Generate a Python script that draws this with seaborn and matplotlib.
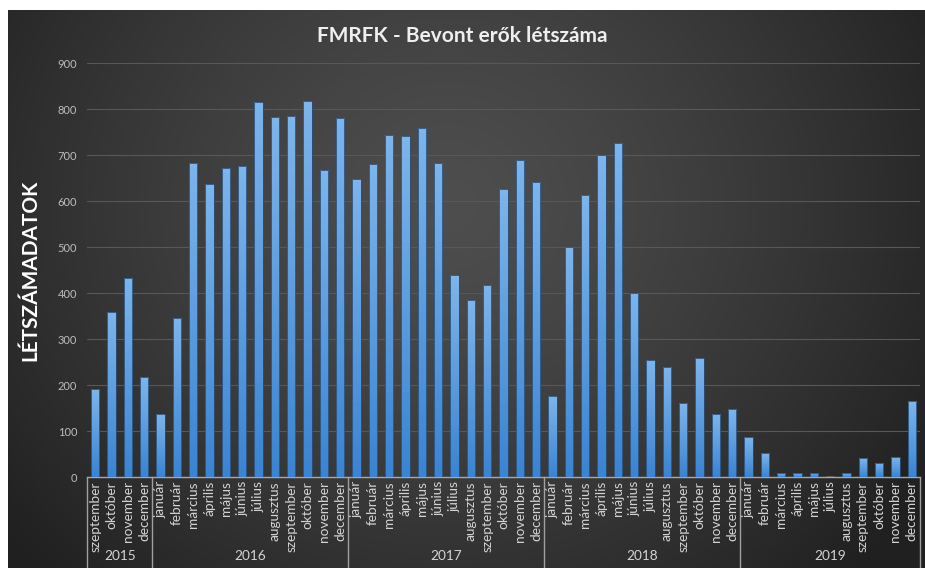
"""
FMRFK - Bevont erők létszáma
Monthly headcount bar chart (2015 szeptember - 2019 december) on a dark
Excel-style background, with a two-level month / year category axis.
"""

import numpy as np
import pandas as pd
import matplotlib.pyplot as plt
import matplotlib.transforms as mtransforms
import seaborn as sns

# --- data ---
years = ["2015", "2016", "2017", "2018", "2019"]

months_2015 = ["szeptember", "október", "november", "december"]
months_2016 = ["január", "február", "március", "április", "május", "június",
               "július", "augusztus", "szeptember", "október", "november", "december"]
months_2017 = ["január", "február", "március", "április", "május", "június",
               "július", "augusztus", "szeptember", "október", "november", "december"]
months_2018 = ["január", "február", "március", "április", "május", "június",
               "július", "augusztus", "szeptember", "október", "november", "december"]
months_2019 = ["január", "február", "március", "április", "május",
               "július", "augusztus", "szeptember", "október", "november", "december"]

values_2015 = [192, 359, 433, 217]
values_2016 = [136, 346, 682, 638, 671, 676, 816, 782, 785, 817, 668, 780]
values_2017 = [648, 680, 743, 741, 758, 683, 439, 384, 418, 626, 690, 642]
values_2018 = [176, 500, 614, 699, 727, 401, 255, 239, 160, 259, 137, 147]
values_2019 = [86, 52, 8, 8, 9, 0, 8, 41, 31, 43, 165]

y_ticks = [0, 100, 200, 300, 400, 500, 600, 700, 800, 900]

month_groups = [months_2015, months_2016, months_2017, months_2018, months_2019]
value_groups = [values_2015, values_2016, values_2017, values_2018, values_2019]

rows = []
for year, months, vals in zip(years, month_groups, value_groups):
    for m, v in zip(months, vals):
        rows.append({"year": year, "month": m, "key": f"{year} {m}", "value": v})
df = pd.DataFrame(rows)

sns.set_theme(style="dark")
plt.rcParams["font.family"] = ["Lato", "DejaVu Sans"]

W, H = 925, 568
fig = plt.figure(figsize=(W / 100, H / 100), dpi=100)
fig.patch.set_facecolor("white")

# --- dark radial gradient background (white strip top/left as in the source) ---
bg = fig.add_axes([8 / W, 0, (W - 8) / W, (H - 10) / H], zorder=0)
gx, gy = np.meshgrid(np.linspace(0, 1, 400), np.linspace(0, 1, 250))
r = np.sqrt(((gx - 0.48) / 0.62) ** 2 + ((gy - 0.65) / 0.95) ** 2)
r = np.clip(r, 0, 1)
shade = (0x4e - (0x4e - 0x20) * r ** 1.3) / 255
bg.imshow(np.dstack([shade, shade, shade]), extent=[0, 1, 0, 1],
          aspect="auto", origin="lower")
bg.axis("off")

# --- main plot area ---
left, right, top, bottom = 87, 920, 63, 477
ax = fig.add_axes([left / W, 1 - bottom / H, (right - left) / W, (bottom - top) / H],
                  zorder=1)
ax.patch.set_alpha(0)

sns.barplot(data=df, x="key", y="value", ax=ax, width=0.53,
            color="#5b9bd5", saturation=1, errorbar=None)

# per-bar vertical gradient (lighter top, deeper blue bottom)
top_c = np.array([0x7d, 0xb5, 0xec]) / 255
bot_c = np.array([0x3a, 0x84, 0xd3]) / 255
t = np.linspace(0, 1, 64)[:, None]
grad = (bot_c * (1 - t) + top_c * t)[:, None, :].repeat(2, axis=1)
for p in list(ax.patches):
    x0, y0, w, h = p.get_x(), p.get_y(), p.get_width(), p.get_height()
    if h <= 0:
        continue
    im = ax.imshow(grad, extent=[x0, x0 + w, y0, y0 + h], aspect="auto",
                   origin="lower", zorder=3)
    im.set_clip_path(p)
    p.set_facecolor("none")
    p.set_edgecolor("#2a4f78")
    p.set_linewidth(0.6)
    p.set_zorder(3.5)

ax.set_xlim(-0.5, len(df) - 0.5)
ax.set_ylim(0, 900)
ax.set_yticks(y_ticks)
ax.grid(axis="y", color="#585858", linewidth=0.8)
ax.set_axisbelow(True)

ax.set_xticks(range(len(df)))
ax.set_xticklabels(df["month"], rotation=90, fontsize=9.8, color="#d4d4d4")
ax.tick_params(axis="x", length=0, pad=3)
ax.tick_params(axis="y", length=0, pad=7, labelsize=8, labelcolor="#bdbdbd")

for side in ["left", "right", "top"]:
    ax.spines[side].set_visible(False)
ax.spines["bottom"].set_color("#a8a8a8")
ax.spines["bottom"].set_linewidth(1)

ax.set_xlabel("")
ax.set_ylabel("LÉTSZÁMADATOK", fontsize=15, fontweight="bold", color="white")
ax.yaxis.set_label_coords(-0.056, 0.5)

# --- second level of the category axis: years with separators ---
trans = mtransforms.blended_transform_factory(ax.transData, ax.transAxes)
bounds = [-0.5]
for months in month_groups:
    bounds.append(bounds[-1] + len(months))
for b in bounds:
    ax.plot([b, b], [0, -0.24], transform=trans, color="#a0a0a0",
            linewidth=1, clip_on=False)
for year, b0, b1 in zip(years, bounds[:-1], bounds[1:]):
    ax.text((b0 + b1) / 2, -0.19, year, transform=trans, ha="center",
            va="center", fontsize=9.8, color="#d4d4d4")

fig.text(0.5, 1 - 36 / H, "FMRFK - Bevont erők létszáma", ha="center",
         va="center", fontsize=15, color="#efefef", fontweight="bold")

fig.savefig("out.png", dpi=100)
plt.close(fig)
